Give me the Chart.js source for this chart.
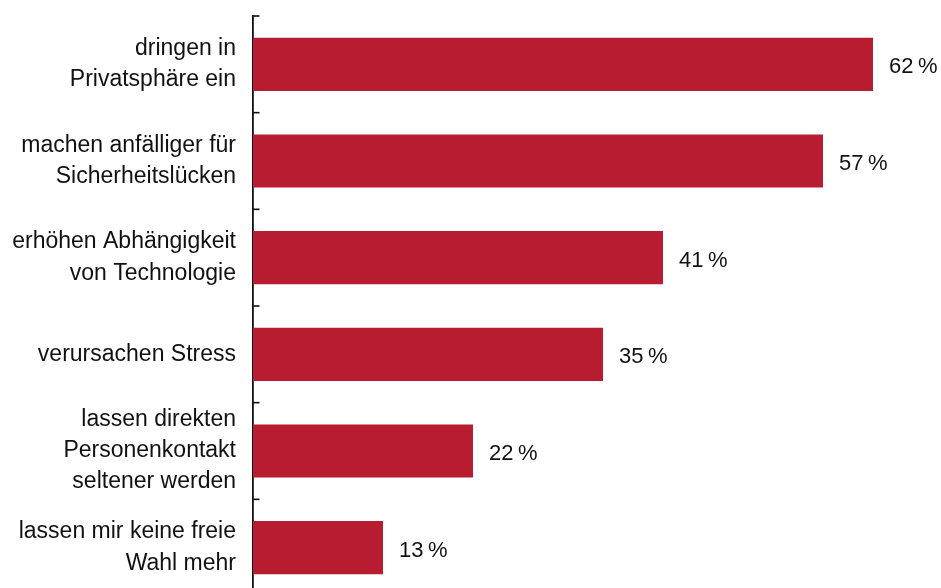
<!DOCTYPE html>
<html lang="de">
<head>
<meta charset="utf-8">
<script src="https://cdn.jsdelivr.net/npm/chart.js@4/dist/chart.umd.min.js"></script>
<style>
  html, body { margin: 0; padding: 0; background: #fff; overflow: hidden; }
  #wrap { position: relative; width: 941px; height: 596px; }
</style>
</head>
<body>
<div id="wrap"><canvas id="chart"></canvas></div>
<script>
// Survey answers: what digital devices do to everyday life (share of respondents, %)
const categories = [
  ["dringen in", "Privatsphäre ein"],
  ["machen anfälliger für", "Sicherheitslücken"],
  ["erhöhen Abhängigkeit", "von Technologie"],
  ["verursachen Stress"],
  ["lassen direkten", "Personenkontakt", "seltener werden"],
  ["lassen mir keine freie", "Wahl mehr"]
];
const shares = [62, 57, 41, 35, 22, 13];
const valueSuffix = "\u2009%";

const FONT = "'Liberation Sans', Arial, Helvetica, sans-serif";
const BAR_RED = "#B71C31";
const INK = "#111111";

// Short tick marks on the inside of the category axis, at every category boundary
const innerTicks = {
  id: "innerTicks",
  afterDraw(chart) {
    const y = chart.scales.y;
    const ctx = chart.ctx;
    const x0 = chart.chartArea.left;
    ctx.save();
    ctx.strokeStyle = INK;
    ctx.lineWidth = 1.6;
    for (let i = 0; i <= categories.length; i++) {
      const py = y.getPixelForValue(i - 0.5);
      ctx.beginPath();
      ctx.moveTo(x0, py);
      ctx.lineTo(x0 + 6.5, py);
      ctx.stroke();
    }
    ctx.restore();
  }
};

// Percentage labels to the right of each bar
const valueLabels = {
  id: "valueLabels",
  afterDatasetsDraw(chart) {
    const ctx = chart.ctx;
    const meta = chart.getDatasetMeta(0);
    ctx.save();
    ctx.font = "22px " + FONT;
    ctx.fillStyle = INK;
    ctx.textAlign = "left";
    ctx.textBaseline = "middle";
    meta.data.forEach((bar, i) => {
      ctx.fillText(shares[i] + valueSuffix, bar.x + 16, bar.y + 3);
    });
    ctx.restore();
  }
};

new Chart(document.getElementById("chart"), {
  type: "bar",
  data: {
    labels: categories,
    datasets: [{
      data: shares,
      backgroundColor: BAR_RED,
      borderWidth: 0,
      categoryPercentage: 1,
      barPercentage: 0.55
    }]
  },
  options: {
    indexAxis: "y",
    responsive: true,
    maintainAspectRatio: false,
    animation: false,
    layout: { padding: { top: 16, right: 8, bottom: 0, left: 0 } },
    plugins: { legend: { display: false }, tooltip: { enabled: false } },
    scales: {
      x: {
        display: false,
        min: 0,
        max: 68
      },
      y: {
        position: "left",
        grid: { display: false, drawTicks: false },
        border: { display: true, color: INK, width: 1.8 },
        afterFit(scale) {
          scale.width = 253;
          scale.paddingTop = 0;
          scale.paddingBottom = 0;
        },
        ticks: {
          color: INK,
          padding: 17,
          font: { family: FONT, size: 23, lineHeight: 1.35 }
        }
      }
    }
  },
  plugins: [innerTicks, valueLabels]
});
</script>
</body>
</html>
